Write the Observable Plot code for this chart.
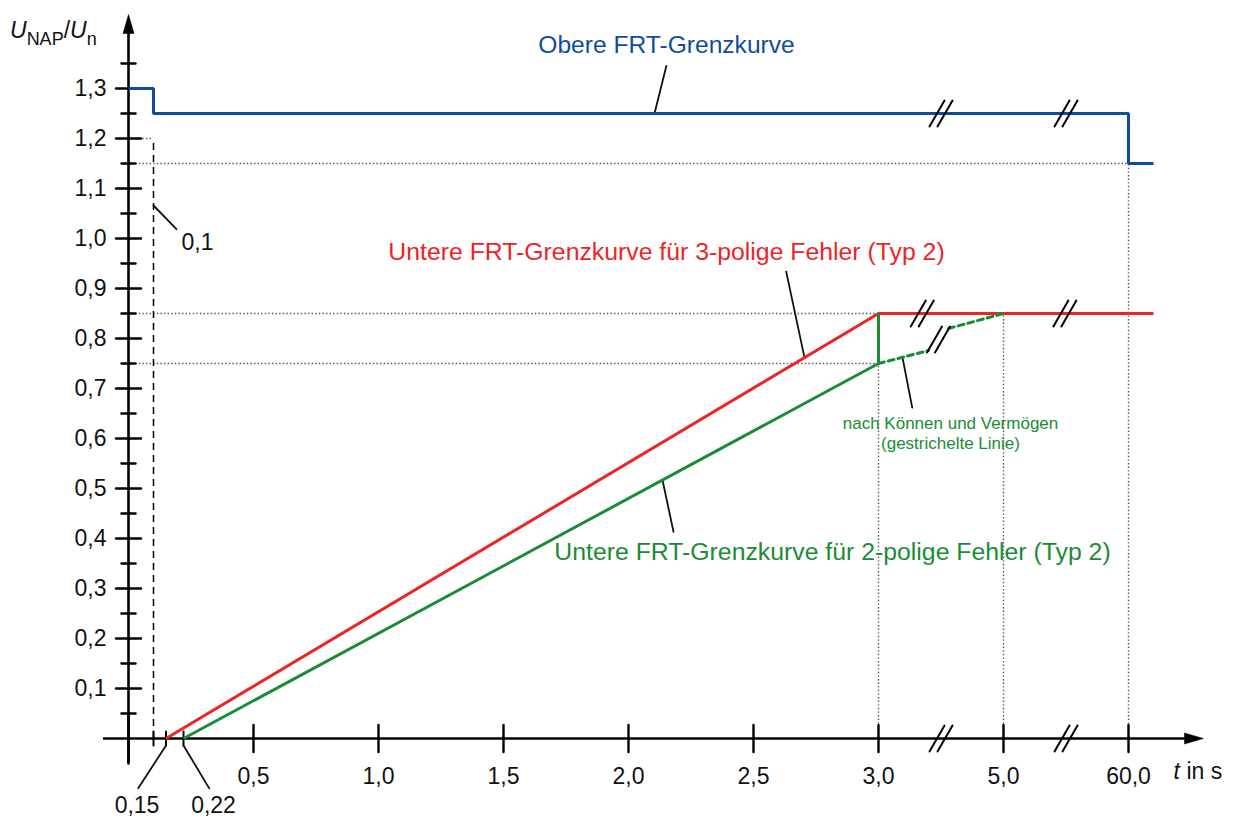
<!DOCTYPE html>
<html>
<head>
<meta charset="utf-8">
<script src="https://cdn.jsdelivr.net/npm/d3@7"></script>
<script src="https://cdn.jsdelivr.net/npm/@observablehq/plot@0.6"></script>
<style>
  body { margin: 0; background: #fff; }
  #chart svg { display: block; }
</style>
</head>
<body>
<div id="chart"></div>
<script>
// FRT limit curves: UNAP/Un over time t (s), time axis broken after 3 s and after 5 s

// Upper FRT limit curve
const upperT = [0, 0.1, 0.1, 60, 60, 61];
const upperV = [1.3, 1.3, 1.25, 1.25, 1.15, 1.15];
// Lower FRT limit curve, 3-pole faults (type 2)
const lower3T = [0.15, 3.0, 61];
const lower3V = [0, 0.85, 0.85];
// Lower FRT limit curve, 2-pole faults (type 2)
const lower2T = [0.22, 3.0, 3.0];
const lower2V = [0, 0.75, 0.85];
// Optional part of the 2-pole curve (dashed), interrupted at the axis break
const optionalAT = [3.0, 3.8];
const optionalAV = [0.75, 0.776];
const optionalBT = [4.12, 5.0];
const optionalBV = [0.82, 0.85];

// Axis ticks and labels
const yMajorTicks = [0.1, 0.2, 0.3, 0.4, 0.5, 0.6, 0.7, 0.8, 0.9, 1.0, 1.1, 1.2, 1.3];
const yTickLabels = ["0,1", "0,2", "0,3", "0,4", "0,5", "0,6", "0,7", "0,8", "0,9", "1,0", "1,1", "1,2", "1,3"];
const yMinorTicks = [0.05, 0.15, 0.25, 0.35, 0.45, 0.55, 0.65, 0.75, 0.85, 0.95, 1.05, 1.15, 1.25, 1.35];
const xMajorTicks = [0.5, 1.0, 1.5, 2.0, 2.5, 3.0, 5.0, 60.0];
const xTickLabels = ["0,5", "1,0", "1,5", "2,0", "2,5", "3,0", "5,0", "60,0"];
const xMinorTicks = [0.1, 0.15, 0.22];

// Axis break positions (time in s)
const axisBreaksT = [4, 32.5];
const upperBreaksT = [4, 32.5];
const lower3BreaksT = [3.7, 32];
const optionalBreakT = [3.96];
const optionalBreakV = [0.798];

// Reference values marked by dotted guides
const hGuideV = [1.2, 1.15, 0.85, 0.75];
const hGuideT = [0.1, 60, 3.0, 3.0];
const vGuideT = [3.0, 5.0, 60];
const vGuideV = [0.85, 0.85, 1.15];

// Broken time axis: 0–3 s linear, then compressed segments 3–5 s and 5–60 s
function pos(t) {
  if (t <= 3) return t;
  if (t <= 5) return 3 + (t - 3) / 4;
  if (t <= 60) return 3.5 + (t - 5) / 110;
  return 4 + (t - 60) * 0.1;
}

const series = (T, V) => T.map((t, i) => ({x: pos(t), y: V[i]}));

const BLUE = "#0f4c9c";
const RED = "#ee2326";
const GREEN = "#1a8c36";
const INK = "#111";
const FONT = "'Liberation Sans', Arial, Helvetica, sans-serif";

// A plain straight stroke for vector marks (ticks, leaders, break marks)
const stroke = {draw(ctx, l) { ctx.moveTo(0, 0); ctx.lineTo(0, -l); }};
// Slim filled arrowhead with its tip at the origin
const arrowHead = {draw(ctx) { ctx.moveTo(0, 0); ctx.lineTo(5.5, 19); ctx.lineTo(-5.5, 19); ctx.closePath(); }};

const dotted = {stroke: "#555", strokeWidth: 1.4, strokeDasharray: "1.4,2.2"};

function breakMarks(T, V) {
  const data = T.map((t, i) => ({x: pos(t), y: V[i]}));
  const opts = {x: "x", y: "y", length: 30, rotate: 30, anchor: "middle", shape: stroke, stroke: "black", strokeWidth: 2};
  return [Plot.vector(data, {...opts, dx: -4}), Plot.vector(data, {...opts, dx: 4})];
}

// Leader lines: start on a curve point, pixel length and direction
const leaders = [
  {t: 2.104, v: 1.25, length: 49, rotate: 14, dy: 0},
  {t: 2.704, v: 0.7617, length: 88, rotate: -12, dy: 0},
  {t: 2.136, v: 0.517, length: 53, rotate: 168, dy: 0},
  {t: 3.384, v: 0.762, length: 51, rotate: 169, dy: 0},
  {t: 0.1, v: 1.066, length: 33, rotate: 136, dy: 0},
  {t: 0.15, v: 0, length: 51, rotate: 213, dy: 7},
  {t: 0.22, v: 0, length: 50, rotate: 149, dy: 7}
];

// Axis arrowheads (tip positions in axis units)
const arrows = [{x: 0, y: 1.448, r: 0}, {x: 4.3, y: 0, r: 90}];

const chart = Plot.plot({
  width: 1248,
  height: 819,
  marginLeft: 103,
  marginRight: 45,
  marginTop: 14,
  marginBottom: 56,
  x: {domain: [-0.1, 4.3], axis: null},
  y: {domain: [-0.05, 1.448], axis: null},
  style: {fontFamily: FONT, background: "#fff", overflow: "visible"},
  marks: [
    // dotted guides
    Plot.ruleY(hGuideV, {y: d => d, x1: 0, x2: (d, i) => pos(hGuideT[i]), ...dotted}),
    Plot.ruleX(vGuideT, {x: d => pos(d), y1: 0, y2: (d, i) => vGuideV[i], ...dotted}),
    // dashed marker at 0.1 s
    Plot.ruleX([0.1], {x: d => pos(d), y1: 0, y2: 1.2, stroke: "black", strokeWidth: 1.5, strokeDasharray: "7,5"}),

    // axes
    Plot.ruleY([0], {x1: -0.1, x2: 4.25, stroke: "black", strokeWidth: 2.6}),
    Plot.ruleX([0], {y1: -0.05, y2: 1.42, stroke: "black", strokeWidth: 2.6}),
    Plot.dot(arrows, {x: "x", y: "y", rotate: "r", symbol: arrowHead, fill: "black", stroke: "black", strokeWidth: 0.5}),
    Plot.vector(yMajorTicks, {x: 0, y: d => d, length: 25, rotate: 90, anchor: "middle", shape: stroke, stroke: "black", strokeWidth: 2.4}),
    Plot.vector(yMinorTicks, {x: 0, y: d => d, length: 14, rotate: 90, anchor: "middle", shape: stroke, stroke: "black", strokeWidth: 2.4}),
    Plot.vector(xMajorTicks, {x: d => pos(d), y: 0, length: 27, anchor: "middle", shape: stroke, stroke: "black", strokeWidth: 2.4}),
    Plot.vector([0], {x: 0, y: 0, length: 50, anchor: "middle", shape: stroke, stroke: "black", strokeWidth: 2.6}),
    Plot.vector(xMinorTicks, {x: d => pos(d), y: 0, length: 14, anchor: "middle", shape: stroke, stroke: "black", strokeWidth: 2}),
    ...breakMarks(axisBreaksT, [0, 0]),

    // tick labels
    Plot.text(yMajorTicks, {x: 0, y: d => d, text: (d, i) => yTickLabels[i], dx: -22, textAnchor: "end", fontSize: 23, fill: INK}),
    Plot.text(xMajorTicks, {x: d => pos(d), y: 0, text: (d, i) => xTickLabels[i], dy: 38, fontSize: 23, fill: INK}),
    Plot.text(["0,15"], {x: pos(0.15), y: 0, dx: -29, dy: 67, fontSize: 23, fill: INK}),
    Plot.text(["0,22"], {x: pos(0.22), y: 0, dx: 30, dy: 67, fontSize: 23, fill: INK}),
    Plot.text(["0,1"], {x: pos(0.1), y: 0.992, dx: 44, fontSize: 23, fill: INK}),
    Plot.text(["t"], {x: 4.18, y: 0, dy: 33, textAnchor: "start", fontSize: 23, fontStyle: "italic", fill: INK}),
    Plot.text(["in s"], {x: 4.18, y: 0, dx: 13, dy: 33, textAnchor: "start", fontSize: 23, fill: INK}),

    // leader lines
    ...leaders.map(d => Plot.vector([d], {x: pos(d.t), y: d.v, length: d.length, rotate: d.rotate, dy: d.dy, anchor: "start", shape: stroke, stroke: INK, strokeWidth: 1.8})),

    // curves
    Plot.line(series(upperT, upperV), {x: "x", y: "y", stroke: BLUE, strokeWidth: 3, strokeLinejoin: "miter", strokeLinecap: "butt"}),
    Plot.line(series(lower3T, lower3V), {x: "x", y: "y", stroke: RED, strokeWidth: 3, strokeLinejoin: "miter", strokeLinecap: "butt"}),
    Plot.line(series(lower2T, lower2V), {x: "x", y: "y", stroke: GREEN, strokeWidth: 3, strokeLinejoin: "miter", strokeLinecap: "butt"}),
    Plot.line(series(optionalAT, optionalAV), {x: "x", y: "y", stroke: GREEN, strokeWidth: 3, strokeDasharray: "6,4"}),
    Plot.line(series(optionalBT, optionalBV), {x: "x", y: "y", stroke: GREEN, strokeWidth: 3, strokeDasharray: "6,4"}),
    ...breakMarks(upperBreaksT, [1.25, 1.25]),
    ...breakMarks(lower3BreaksT, [0.85, 0.85]),
    ...breakMarks(optionalBreakT, optionalBreakV),

    // curve labels
    Plot.text(["Obere FRT-Grenzkurve"], {x: 2.152, y: 1.386, fontSize: 24.6, fill: BLUE}),
    Plot.text(["Untere FRT-Grenzkurve für 3-polige Fehler (Typ 2)"], {x: 2.152, y: 0.973, fontSize: 24.8, fill: RED}),
    Plot.text(["Untere FRT-Grenzkurve für 2-polige Fehler (Typ 2)"], {x: 2.816, y: 0.373, fontSize: 24.8, fill: GREEN}),
    Plot.text(["nach Können und Vermögen\n(gestrichelte Linie)"], {x: pos(4.152), y: 0.612, fontSize: 17, lineHeight: 1.18, fill: GREEN})
  ]
});

document.getElementById("chart").append(chart);

// y-axis title: U_NAP / U_n with italic symbols and upright subscripts
const title = d3.select(chart).append("text")
  .attr("x", 10).attr("y", 38)
  .attr("text-anchor", "start")
  .attr("font-family", FONT).attr("fill", INK);
title.append("tspan").attr("font-style", "italic").attr("font-size", 23).text("U");
title.append("tspan").attr("font-size", 18).attr("dy", 7).text("NAP");
title.append("tspan").attr("font-size", 23).attr("dy", -7).text("/");
title.append("tspan").attr("font-style", "italic").attr("font-size", 23).text("U");
title.append("tspan").attr("font-size", 18).attr("dy", 7).text("n");
</script>
</body>
</html>
